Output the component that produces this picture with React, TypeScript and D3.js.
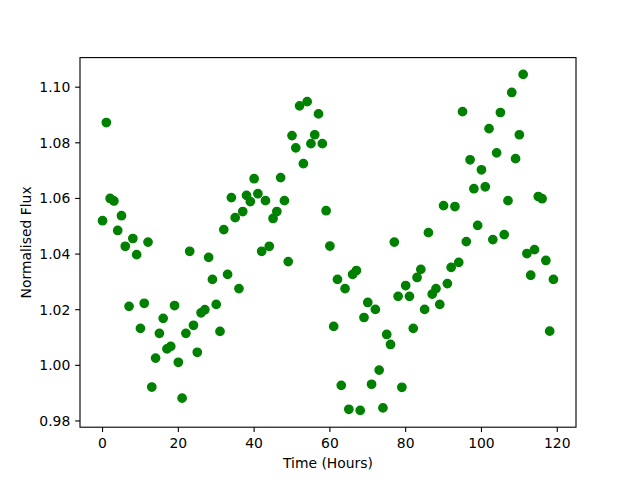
import React from "react";
import * as d3 from "d3";

const hours: number[] = Array.from({ length: 120 }, (_, i) => i);
const flux: number[] = [
  1.0520, 1.0873, 1.0600, 1.0591, 1.0485, 1.0538, 1.0428, 1.0212, 1.0456, 1.0398,
  1.0133, 1.0223, 1.0443, 0.9922, 1.0026, 1.0115, 1.0169, 1.0059, 1.0068, 1.0215,
  1.0011, 0.9882, 1.0115, 1.0410, 1.0144, 1.0047, 1.0189, 1.0200, 1.0388, 1.0309,
  1.0219, 1.0122, 1.0488, 1.0327, 1.0603, 1.0531, 1.0276, 1.0553, 1.0611, 1.0589,
  1.0671, 1.0617, 1.0410, 1.0592, 1.0428, 1.0528, 1.0553, 1.0675, 1.0592, 1.0373,
  1.0826, 1.0782, 1.0933, 1.0725, 1.0948, 1.0797, 1.0829, 1.0904, 1.0797, 1.0556,
  1.0429, 1.0140, 1.0309, 0.9928, 1.0276, 0.9842, 1.0327, 1.0341, 0.9838, 1.0172,
  1.0226, 0.9932, 1.0201, 0.9983, 0.9847, 1.0111, 1.0075, 1.0443, 1.0248, 0.9921,
  1.0287, 1.0248, 1.0133, 1.0316, 1.0345, 1.0201, 1.0477, 1.0256, 1.0276, 1.0219,
  1.0574, 1.0294, 1.0352, 1.0571, 1.0370, 1.0912, 1.0445, 1.0739, 1.0635, 1.0503,
  1.0703, 1.0642, 1.0851, 1.0452, 1.0764, 1.0909, 1.0470, 1.0592, 1.0981, 1.0743,
  1.0829, 1.1046, 1.0402, 1.0324, 1.0416, 1.0607, 1.0599, 1.0377, 1.0123, 1.0309,
];
const xTicks: number[] = [0, 20, 40, 60, 80, 100, 120];
const yTicks: number[] = [0.98, 1.0, 1.02, 1.04, 1.06, 1.08, 1.1];
const xLabel = "Time (Hours)";
const yLabel = "Normalised Flux";

export default function App() {
  const W = 640, H = 480;
  const left = 80, right = 576, top = 57.6, bottom = 427.2;
  const xMin = d3.min(hours)!, xMax = d3.max(hours)!;
  const yMin = d3.min(flux)!, yMax = d3.max(flux)!;
  const xm = (xMax - xMin) * 0.05, ym = (yMax - yMin) * 0.05;
  const x = d3.scaleLinear().domain([xMin - xm, xMax + xm]).range([left, right]);
  const y = d3.scaleLinear().domain([yMin - ym, yMax + ym]).range([bottom, top]);
  const font = "DejaVu Sans, sans-serif";
  const fs = 13.9;
  const tick = 4.86;
  const col = "#008000";
  return (
    <svg width={W} height={H} style={{ position: "absolute", left: 0, top: 0, background: "#fff" }}>
      <rect x={0} y={0} width={W} height={H} fill="#fff" />
      {hours.map((h, i) => (
        <circle key={i} cx={x(h)} cy={y(flux[i])} r={4.17} fill={col} stroke={col} strokeWidth={1.39} />
      ))}
      <rect x={left} y={top} width={right - left} height={bottom - top} fill="none" stroke="#000" strokeWidth={1.11} />
      {xTicks.map((t) => (
        <g key={t}>
          <line x1={x(t)} x2={x(t)} y1={bottom} y2={bottom + tick} stroke="#000" strokeWidth={1.11} />
          <text x={x(t)} y={bottom + tick + 4.86 + 10.6} textAnchor="middle" fontFamily={font} fontSize={fs} fill="#000">
            {t}
          </text>
        </g>
      ))}
      {yTicks.map((t) => (
        <g key={t}>
          <line x1={left - tick} x2={left} y1={y(t)} y2={y(t)} stroke="#000" strokeWidth={1.11} />
          <text x={left - tick - 4.86} y={y(t)} dy="0.36em" textAnchor="end" fontFamily={font} fontSize={fs} fill="#000">
            {t.toFixed(2)}
          </text>
        </g>
      ))}
      <text x={(left + right) / 2} y={468} textAnchor="middle" fontFamily={font} fontSize={fs} fill="#000">
        {xLabel}
      </text>
      <text
        transform={`translate(${31},${(top + bottom) / 2}) rotate(-90)`}
        textAnchor="middle"
        fontFamily={font}
        fontSize={fs}
        fill="#000"
      >
        {yLabel}
      </text>
    </svg>
  );
}
